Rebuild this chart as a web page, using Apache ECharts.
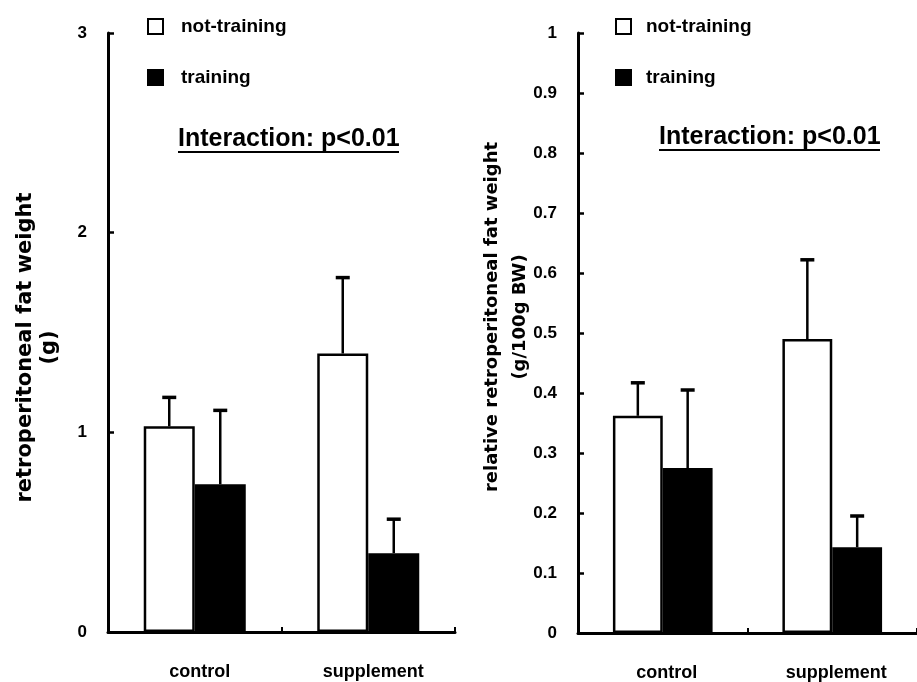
<!DOCTYPE html>
<html>
<head>
<meta charset="utf-8">
<script src="https://cdn.jsdelivr.net/npm/echarts@6/dist/echarts.min.js"></script>
<style>html,body{margin:0;padding:0;background:#fff;}#c{width:917px;height:682px;}</style>
</head>
<body>
<div id="c"></div>
<script>
const categories = ['control', 'supplement'];
const seriesNames = ['not-training', 'training'];
// absolute retroperitoneal fat weight (g)
const fatNotTrainMean = [1.03, 1.395];
const fatNotTrainSD = [0.145, 0.38];
const fatTrainMean = [0.74, 0.395];
const fatTrainSD = [0.37, 0.17];
// relative retroperitoneal fat weight (g/100g BW)
const relNotTrainMean = [0.362, 0.49];
const relNotTrainSD = [0.055, 0.132];
const relTrainMean = [0.275, 0.143];
const relTrainSD = [0.13, 0.052];
const leftTicks = { min: 0, max: 3, interval: 1 };
const rightTicks = { min: 0, max: 1, interval: 0.1 };

const FONT = "'Liberation Sans', Arial, sans-serif";
const WIDE = "'DejaVu Sans', 'Liberation Sans', sans-serif";
const BAR_FRAC = 0.294;

function errRender(sign) {
  return function (params, api) {
    const x = api.value(0), m = api.value(1), sd = api.value(2);
    const catW = api.size([1, 0])[0];
    const off = sign * catW * BAR_FRAC / 2;
    const p0 = api.coord([x, m]);
    const p1 = api.coord([x, m + sd]);
    const cx = p0[0] + off;
    return {
      type: 'group',
      children: [
        { type: 'line', shape: { x1: cx, y1: p0[1], x2: cx, y2: p1[1] }, style: { stroke: '#000', lineWidth: 2.5 } },
        { type: 'line', shape: { x1: cx - 7, y1: p1[1], x2: cx + 7, y2: p1[1] }, style: { stroke: '#000', lineWidth: 3.5 } }
      ]
    };
  };
}
function errData(mean, sd) { return mean.map((m, i) => [i, m, sd[i]]); }

function xAx(idx, padL) {
  return {
    type: 'category', gridIndex: idx, data: categories,
    axisLine: { lineStyle: { color: '#000', width: 3 } },
    axisTick: { show: true, inside: true, length: 5, lineStyle: { color: '#000', width: 2 } },
    axisLabel: { color: '#000', fontSize: 18, fontWeight: 'bold', fontFamily: FONT, margin: 31, padding: [0, 0, 0, padL] },
    splitLine: { show: false }
  };
}
function yAx(idx, t, name, gap, size, lh, pad) {
  return {
    type: 'value', gridIndex: idx, min: t.min, max: t.max, interval: t.interval,
    name: name, nameLocation: 'middle', nameRotate: 90, nameGap: gap, nameMoveOverlap: false,
    nameTextStyle: { color: '#000', fontSize: size, fontWeight: 'bold', fontFamily: WIDE, lineHeight: lh, padding: pad },
    axisLine: { show: true, lineStyle: { color: '#000', width: 3 } },
    axisTick: { show: true, inside: true, length: 6, lineStyle: { color: '#000', width: 2.5 } },
    axisLabel: { color: '#000', fontSize: 17, fontWeight: 'bold', fontFamily: FONT, margin: 21 },
    splitLine: { show: false }
  };
}
function barS(name, idx, data, fill) {
  return {
    type: 'bar', name: name, xAxisIndex: idx, yAxisIndex: idx, data: data,
    barWidth: (BAR_FRAC * 100) + '%', barGap: '0%',
    itemStyle: { color: fill, borderColor: '#000', borderWidth: 2.5 },
    emphasis: { disabled: true }
  };
}
function errS(idx, mean, sd, sign) {
  return {
    type: 'custom', xAxisIndex: idx, yAxisIndex: idx, data: errData(mean, sd),
    renderItem: errRender(sign), z: 3, silent: true
  };
}
function legend(left, padL) {
  return {
    left: left, top: 12, orient: 'vertical', itemGap: 32, itemWidth: 15, itemHeight: 15,
    data: seriesNames.map(n => ({ name: n, icon: 'rect' })),
    textStyle: { color: '#000', fontSize: 19, fontWeight: 'bold', fontFamily: FONT, padding: [0, 0, 0, padL] },
    selectedMode: false
  };
}
function interText(x, y) {
  return [
    { type: 'text', left: x, top: y, style: { text: 'Interaction: p<0.01', fill: '#000', font: "bold 25px 'Liberation Sans', Arial, sans-serif" } },
    { type: 'rect', left: x, top: y + 24, shape: { width: 221, height: 2 }, style: { fill: '#000' } }
  ];
}

const chart = echarts.init(document.getElementById('c'), null, { renderer: 'canvas' });
chart.setOption({
  backgroundColor: '#fff',
  animation: false,
  grid: [
    { left: 108, top: 33, width: 347, bottom: 50 },
    { left: 578, top: 33, width: 348, bottom: 49 }
  ],
  legend: [legend(142, 13), legend(610, 10)],
  xAxis: [xAx(0, 10), xAx(1, 8)],
  yAxis: [
    yAx(0, leftTicks, 'retroperitoneal fat weight\n(g)', 46, 21, 24, [0, 30, 0, 0]),
    yAx(1, rightTicks, 'relative retroperitoneal fat weight\n(g/100g BW)', 44, 18, 28, [0, 0, 0, 32])
  ],
  series: [
    barS(seriesNames[0], 0, fatNotTrainMean, '#fff'),
    barS(seriesNames[1], 0, fatTrainMean, '#000'),
    errS(0, fatNotTrainMean, fatNotTrainSD, -1),
    errS(0, fatTrainMean, fatTrainSD, 1),
    barS(seriesNames[0], 1, relNotTrainMean, '#fff'),
    barS(seriesNames[1], 1, relTrainMean, '#000'),
    errS(1, relNotTrainMean, relNotTrainSD, -1),
    errS(1, relTrainMean, relTrainSD, 1)
  ],
  graphic: interText(178, 127).concat(interText(659, 125))
});
</script>
</body>
</html>
